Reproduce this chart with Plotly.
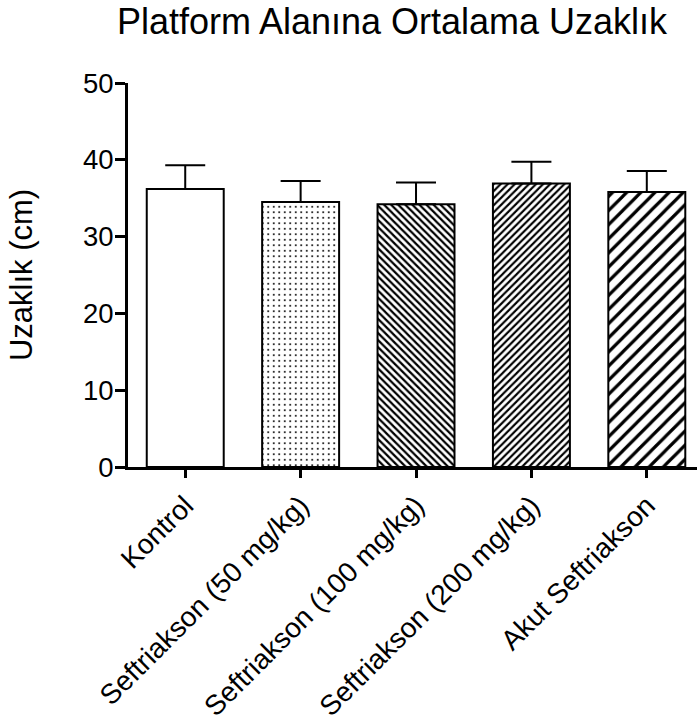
import plotly.graph_objects as go

# Group means and SEM (cm)
groups = ["Kontrol", "Seftriakson (50 mg/kg)", "Seftriakson (100 mg/kg)",
          "Seftriakson (200 mg/kg)", "Akut Seftriakson"]
means = [36.2, 34.5, 34.2, 36.9, 35.8]
sem = [3.1, 2.75, 2.85, 2.85, 2.75]

y_ticks = [0, 10, 20, 30, 40, 50]

FONT = "Liberation Sans, Arial, sans-serif"

fig = go.Figure(go.Bar(
    x=groups,
    y=means,
    width=0.667,
    marker=dict(
        color="white",
        line=dict(color="black", width=2),
        pattern=dict(
            shape=["", ".", "\\", "/", "/"],
            size=[6, 5.5, 5, 5, 10],
            solidity=[0.0, 0.11, 0.45, 0.42, 0.32],
            fgcolor="black",
            fgopacity=1,
            bgcolor="white",
            fillmode="overlay",
        ),
    ),
    error_y=dict(
        type="data",
        symmetric=False,
        array=sem,
        arrayminus=[0] * len(sem),
        color="black",
        thickness=2,
        width=20,
    ),
))

fig.update_layout(
    width=697,
    height=727,
    margin=dict(l=128, r=0, t=83, b=260, autoexpand=False),
    paper_bgcolor="white",
    plot_bgcolor="white",
    showlegend=False,
    font=dict(family=FONT, color="black"),
    title=dict(
        text="Platform Alanına Ortalama Uzaklık",
        font=dict(size=36, family=FONT, color="black"),
        x=392 / 697,
        xanchor="center",
        xref="container",
        y=1 - 21 / 727,
        yanchor="middle",
        yref="container",
    ),
)

fig.update_xaxes(
    range=[-0.496, 4.435],
    automargin=False,
    showline=True,
    linecolor="black",
    linewidth=3,
    ticks="outside",
    ticklen=8,
    tickwidth=3,
    tickcolor="black",
    tickangle=-45,
    tickfont=dict(size=28, family=FONT, color="black"),
    showgrid=False,
    zeroline=False,
)

fig.update_yaxes(
    range=[0, 50],
    automargin=False,
    tickvals=y_ticks,
    showline=True,
    linecolor="black",
    linewidth=3,
    ticks="outside",
    ticklen=10,
    tickwidth=3,
    tickcolor="black",
    tickfont=dict(size=27.5, family=FONT, color="black"),
    ticklabelstandoff=-4,
    showgrid=False,
    zeroline=False,
    title=dict(text="Uzaklık (cm)", font=dict(size=31, family=FONT, color="black"),
               standoff=42),
)

fig.write_html("out.html")
